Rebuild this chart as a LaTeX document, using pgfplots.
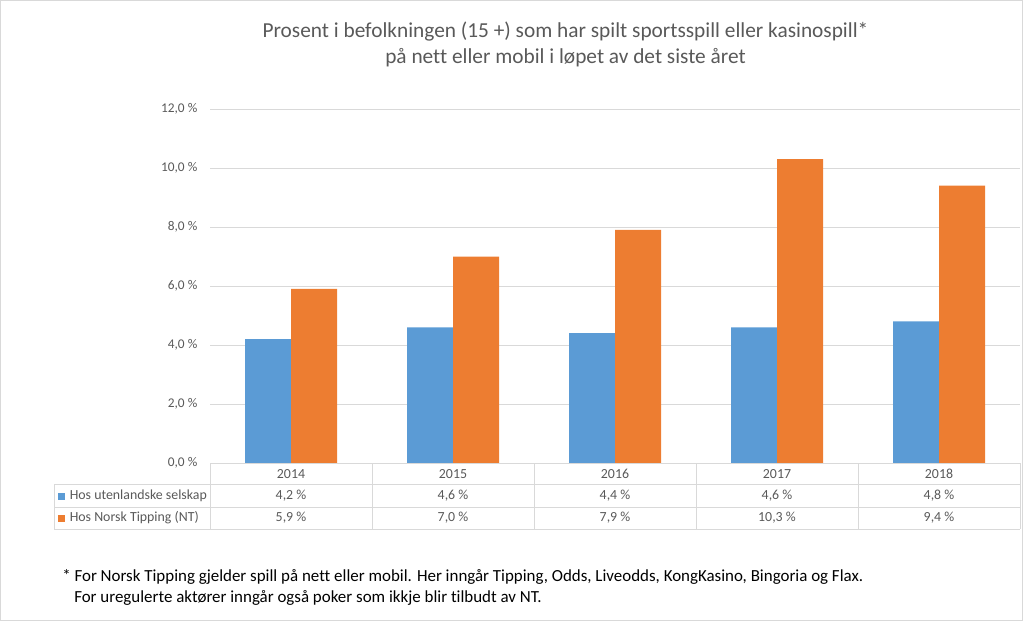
\documentclass[border=0pt]{standalone}
\usepackage{pgfplots}
\pgfplotsset{compat=1.18}
\usepackage{fontspec}
\setmainfont{Carlito}[Ligatures=NoCommon]
\definecolor{cblue}{HTML}{5B9BD5}
\definecolor{corange}{HTML}{ED7D31}
\definecolor{gridgray}{HTML}{D9D9D9}
\definecolor{textgray}{HTML}{595959}
\begin{document}
\begin{tikzpicture}
\begin{scope}[x=0.75pt,y=-0.75pt]
\draw[gridgray,line width=0.75pt] (0.5,0.5) rectangle (1022.5,620.5);
\end{scope}
\begin{axis}[
  at={(157.5pt,-347.25pt)}, anchor=south west,
  scale only axis, width=607.5pt, height=265.5pt,
  xmin=-0.5, xmax=4.5, ymin=0, ymax=12,
  ytick={0,2,...,12},
  yticklabels={{0,0 \%},{2,0 \%},{4,0 \%},{6,0 \%},{8,0 \%},{10,0 \%},{12,0 \%}},
  xtick=\empty,
  axis line style={draw=none},
  ymajorgrids, grid style={color=gridgray, line width=0.75pt},
  major tick length=0pt,
  yticklabel style={font=\fontsize{10}{11}\selectfont, text=textgray, xshift=-6pt},
  ybar=0pt, bar width=34.5pt,
  clip=false,
]
\addplot[fill=cblue, draw=none] coordinates {(0,4.2) (1,4.6) (2,4.4) (3,4.6) (4,4.8)};
\addplot[fill=corange, draw=none] coordinates {(0,5.9) (1,7.0) (2,7.9) (3,10.3) (4,9.4)};
\end{axis}
\begin{scope}[x=0.75pt,y=-0.75pt]
% table grid
\draw[gridgray,line width=0.75pt] (210,463) -- (1020,463);
\draw[gridgray,line width=0.75pt] (54,484.5) -- (1020,484.5);
\draw[gridgray,line width=0.75pt] (54,507) -- (1020,507);
\draw[gridgray,line width=0.75pt] (54,529) -- (1020,529);
\draw[gridgray,line width=0.75pt] (54,484.5) -- (54,529);
\foreach \x in {210,372,534,696,858,1020} \draw[gridgray,line width=0.75pt] (\x,463) -- (\x,529);
\tikzset{tt/.style={font=\fontsize{10.4}{11}\selectfont, text=textgray, inner sep=0pt}}
\foreach \x/\t in {291/2014,453/2015,615/2016,777/2017,939/2018} \node[tt] at (\x,474) {\t};
\foreach \x/\t in {291/{4,2 \%},453/{4,6 \%},615/{4,4 \%},777/{4,6 \%},939/{4,8 \%}} \node[tt] at (\x,496) {\t};
\foreach \x/\t in {291/{5,9 \%},453/{7,0 \%},615/{7,9 \%},777/{10,3 \%},939/{9,4 \%}} \node[tt] at (\x,518) {\t};
\fill[cblue] (58,492.5) rectangle (65,499.5);
\fill[corange] (58,514.5) rectangle (65,521.5);
\node[tt,anchor=west] at (69.5,496) {Hos utenlandske selskap};
\node[tt,anchor=west] at (69.5,518) {Hos Norsk Tipping (NT)};
% title
\node[font=\fontsize{16}{18}\selectfont, text=textgray, inner sep=0pt] at (565.5,32) {Prosent i befolkningen (15 +) som har spilt sportsspill eller kasinospill*};
\node[font=\fontsize{16}{18}\selectfont, text=textgray, inner sep=0pt] at (565.5,58) {på nett eller mobil i løpet av det siste året};
% footnote
\node[font=\fontsize{12.7}{14}\selectfont, anchor=west, inner sep=0pt] at (62,577) {* For Norsk Tipping gjelder spill på nett eller mobil. Her inngår Tipping, Odds, Liveodds, KongKasino, Bingoria og Flax.};
\node[font=\fontsize{12.7}{14}\selectfont, anchor=west, inner sep=0pt] at (74,598) {For uregulerte aktører inngår også poker som ikkje blir tilbudt av NT.};
\end{scope}
\end{tikzpicture}
\end{document}
